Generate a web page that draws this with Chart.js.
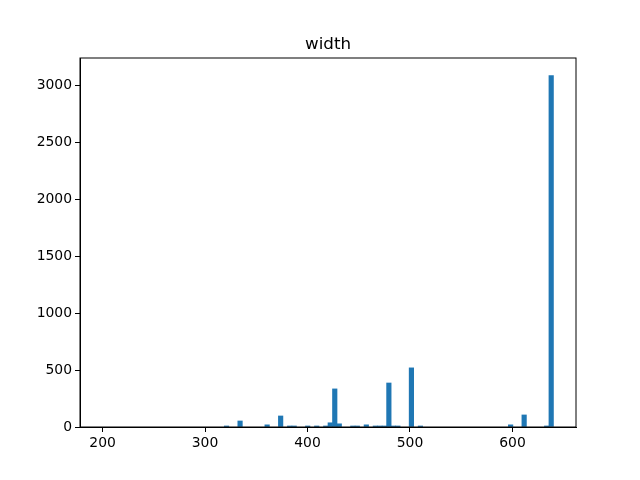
<!DOCTYPE html>
<html lang="en">
<head>
<meta charset="UTF-8" />
<title>width</title>
<script src="https://cdn.jsdelivr.net/npm/chart.js"></script>
<style>
  html, body { margin: 0; padding: 0; background: #fff; }
  #wrap { width: 640px; height: 480px; }
</style>
</head>
<body>
<div id="wrap"><canvas id="chart" width="640" height="480"></canvas></div>
<script>
// histogram of widths (100 bins of 4.4 between 200 and 640), only non-empty bins listed
const binCenters = [321.0, 334.2, 360.6, 373.8, 382.6, 387.0, 400.2, 409.0, 417.8, 422.2,
  426.6, 431.0, 444.2, 448.6, 457.4, 466.2, 470.6, 475.0, 479.4, 483.8,
  488.2, 501.4, 510.2, 598.2, 611.4, 633.4, 637.8];
const counts = [9, 53, 19, 97, 9, 9, 9, 9, 9, 37,
  335, 28, 9, 9, 19, 9, 9, 9, 387, 9,
  9, 520, 9, 19, 106, 9, 3090];
const xTicks = [200, 300, 400, 500, 600];
const yTicks = [0, 500, 1000, 1500, 2000, 2500, 3000];
const chartTitle = 'width';

const font = { family: 'DejaVu Sans', size: 13.9 };

const frame = {
  id: 'frame',
  afterDraw(chart) {
    const { ctx, chartArea: a } = chart;
    ctx.save();
    ctx.strokeStyle = '#000';
    ctx.lineWidth = 1;
    ctx.strokeRect(a.left, a.top, a.right - a.left, a.bottom - a.top);
    ctx.fillStyle = '#000';
    ctx.font = '16.7px "DejaVu Sans"';
    ctx.textAlign = 'center';
    ctx.textBaseline = 'alphabetic';
    ctx.fillText(chartTitle, (a.left + a.right) / 2, a.top - 9);
    ctx.restore();
  }
};

new Chart(document.getElementById('chart'), {
  type: 'bar',
  data: {
    datasets: [{
      label: chartTitle,
      data: binCenters.map((x, i) => ({ x, y: counts[i] })),
      backgroundColor: '#1f77b4',
      borderWidth: 0,
      barPercentage: 1,
      categoryPercentage: 1
    }]
  },
  options: {
    responsive: false,
    animation: false,
    layout: { padding: { left: 0, right: 64, top: 58, bottom: 0 } },
    plugins: { legend: { display: false }, tooltip: { enabled: false } },
    scales: {
      x: {
        type: 'linear',
        offset: false,
        min: 178,
        max: 662,
        afterBuildTicks: s => { s.ticks = xTicks.map(v => ({ value: v })); },
        afterFit: s => { s.height = 53; },
        grid: { offset: false, drawOnChartArea: false, drawTicks: true, tickLength: 5, color: '#000' },
        border: { color: '#000' },
        ticks: { color: '#000', font, padding: 3, maxRotation: 0, callback: v => String(v) }
      },
      y: {
        min: 0,
        max: 3245,
        afterBuildTicks: s => { s.ticks = yTicks.map(v => ({ value: v })); },
        afterFit: s => { s.width = 80; },
        grid: { drawOnChartArea: false, drawTicks: true, tickLength: 5, color: '#000' },
        border: { color: '#000' },
        ticks: { color: '#000', font, padding: 3, callback: v => String(v) }
      }
    }
  },
  plugins: [frame]
});
</script>
</body>
</html>
